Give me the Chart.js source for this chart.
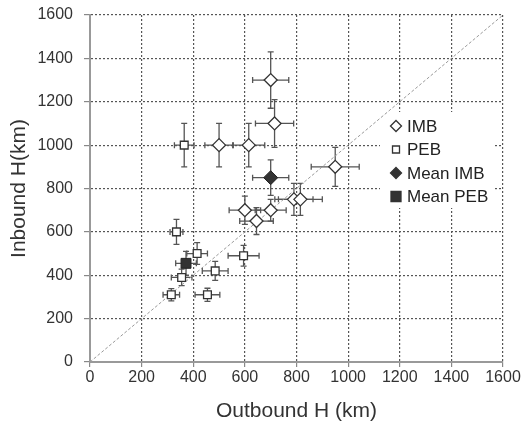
<!DOCTYPE html>
<html>
<head>
<meta charset="utf-8">
<script src="https://cdn.jsdelivr.net/npm/chart.js@4/dist/chart.umd.min.js"></script>
<style>
  body { margin: 0; background: #fff; }
  canvas { display: block; }
</style>
</head>
<body>
<canvas id="chart1" width="521" height="427"></canvas>
<script>
// IMB events
const imbX = [700, 715, 500, 615, 950, 790, 815, 600, 700, 645];
const imbY = [1300, 1100, 1000, 1000, 900, 750, 750, 700, 700, 650];
const imbXErr = [70, 74, 55, 62, 93, 74, 85, 61, 60, 65];
const imbYErr = [130, 110, 100, 100, 90, 74, 74, 65, 50, 62];

// PEB events
const pebX = [365, 335, 595, 415, 485, 355, 315, 455];
const pebY = [1000, 600, 490, 500, 420, 390, 310, 310];
const pebXErr = [38, 25, 60, 40, 50, 40, 32, 48];
const pebYErr = [100, 58, 48, 50, 44, 38, 28, 30];

// means
const meanImbX = [700];
const meanImbY = [850];
const meanImbXErr = [70];
const meanImbYErr = [82];
const meanPebX = [372];
const meanPebY = [455];
const meanPebXErr = [40];
const meanPebYErr = [55];

// 1:1 line
const diagX = [0, 1600];
const diagY = [0, 1600];

const axisTicks = [0, 200, 400, 600, 800, 1000, 1200, 1400, 1600];
const legendLabels = ['IMB', 'PEB', 'Mean IMB', 'Mean PEB'];

function toPoints(xs, ys) {
  let pts = [];
  for (let i = 0; i < xs.length; i++) {
    pts.push({x: xs[i], y: ys[i]});
  }
  return pts;
}

const errBars = [
  {x: imbX, y: imbY, ex: imbXErr, ey: imbYErr},
  {x: pebX, y: pebY, ex: pebXErr, ey: pebYErr},
  {x: meanImbX, y: meanImbY, ex: meanImbXErr, ey: meanImbYErr},
  {x: meanPebX, y: meanPebY, ex: meanPebXErr, ey: meanPebYErr}
];

const errorBarPlugin = {
  id: 'errorBars',
  beforeDatasetsDraw(chart) {
    const ctx = chart.ctx;
    const xs = chart.scales.x;
    const ys = chart.scales.y;
    const area = chart.chartArea;
    const cap = 3;
    ctx.save();
    // white box behind the legend
    ctx.fillStyle = '#fff';
    ctx.fillRect(area.right - 123, area.top + 97, 115, 96);
    ctx.strokeStyle = '#555';
    ctx.lineWidth = 1.3;
    errBars.forEach(function(s) {
      for (let i = 0; i < s.x.length; i++) {
        const px = xs.getPixelForValue(s.x[i]);
        const py = ys.getPixelForValue(s.y[i]);
        const x0 = xs.getPixelForValue(s.x[i] - s.ex[i]);
        const x1 = xs.getPixelForValue(s.x[i] + s.ex[i]);
        const y0 = ys.getPixelForValue(s.y[i] - s.ey[i]);
        const y1 = ys.getPixelForValue(s.y[i] + s.ey[i]);
        ctx.beginPath();
        ctx.moveTo(x0, py); ctx.lineTo(x1, py);
        ctx.moveTo(x0, py - cap); ctx.lineTo(x0, py + cap);
        ctx.moveTo(x1, py - cap); ctx.lineTo(x1, py + cap);
        ctx.moveTo(px, y0); ctx.lineTo(px, y1);
        ctx.moveTo(px - cap, y0); ctx.lineTo(px + cap, y0);
        ctx.moveTo(px - cap, y1); ctx.lineTo(px + cap, y1);
        ctx.stroke();
      }
    });
    ctx.restore();
  }
};

const legendPlugin = {
  id: 'innerLegend',
  afterDraw(chart) {
    const ctx = chart.ctx;
    const area = chart.chartArea;
    const mx = area.right - 107;
    const tx = area.right - 96;
    let y = area.top + 111;
    ctx.save();
    ctx.font = '17px "Liberation Sans", Arial, sans-serif';
    ctx.textBaseline = 'middle';
    ctx.textAlign = 'left';
    legendLabels.forEach(function(lbl, i) {
      ctx.lineWidth = 1.3;
      ctx.strokeStyle = '#333';
      ctx.fillStyle = (i < 2) ? '#fff' : '#333';
      ctx.beginPath();
      if (i === 0 || i === 2) {
        const r = 5.5;
        ctx.moveTo(mx, y - r); ctx.lineTo(mx + r, y);
        ctx.lineTo(mx, y + r); ctx.lineTo(mx - r, y);
        ctx.closePath();
      } else if (i === 1) {
        ctx.rect(mx - 3.5, y - 3.5, 7, 7);
      } else {
        ctx.rect(mx - 5, y - 5, 10, 10);
      }
      ctx.fill();
      ctx.stroke();
      ctx.fillStyle = '#222';
      ctx.fillText(lbl, tx, y + 1);
      y += 23.5;
    });
    ctx.restore();
  }
};

const ctx = document.getElementById('chart1').getContext('2d');

const chart1 = new Chart(ctx, {
  type: 'scatter',
  data: {
    datasets: [
      {
        label: 'Mean PEB',
        data: toPoints(meanPebX, meanPebY),
        pointStyle: 'rect',
        radius: 7,
        backgroundColor: '#333',
        borderColor: '#222',
        borderWidth: 1
      },
      {
        label: 'Mean IMB',
        data: toPoints(meanImbX, meanImbY),
        pointStyle: 'rectRot',
        radius: 7,
        backgroundColor: '#333',
        borderColor: '#222',
        borderWidth: 1
      },
      {
        label: 'PEB',
        data: toPoints(pebX, pebY),
        pointStyle: 'rect',
        radius: 5.5,
        backgroundColor: '#fff',
        borderColor: '#333',
        borderWidth: 1.3
      },
      {
        label: 'IMB',
        data: toPoints(imbX, imbY),
        pointStyle: 'rectRot',
        radius: 6.5,
        backgroundColor: '#fff',
        borderColor: '#333',
        borderWidth: 1.3
      },
      {
        type: 'line',
        label: '1:1',
        data: toPoints(diagX, diagY),
        borderColor: '#999',
        borderWidth: 1,
        borderDash: [3, 2],
        pointRadius: 0,
        fill: false
      }
    ]
  },
  options: {
    responsive: false,
    animation: false,
    events: [],
    layout: {
      padding: {top: 15, right: 18, left: 0, bottom: 0}
    },
    plugins: {
      legend: {display: false},
      tooltip: {enabled: false}
    },
    scales: {
      x: {
        type: 'linear',
        min: 0,
        max: 1600,
        afterFit(scale) {
          scale.height = 65;
          scale.paddingLeft = 0;
          scale.paddingRight = 0;
        },
        afterBuildTicks(scale) { scale.ticks = axisTicks.map(v => ({value: v})); },
        grid: {
          color: '#555',
          lineWidth: 1.2,
          tickLength: 5,
          tickColor: '#888'
        },
        border: {display: true, color: '#999', width: 2, dash: [2, 2]},
        ticks: {
          color: '#333',
          padding: 1,
          maxRotation: 0,
          callback: v => String(v),
          font: {family: '"Liberation Sans", Arial, sans-serif', size: 16}
        },
        title: {
          display: true,
          text: 'Outbound H (km)',
          color: '#333',
          padding: {top: 0, bottom: 3},
          font: {family: '"Liberation Sans", Arial, sans-serif', size: 21}
        }
      },
      y: {
        type: 'linear',
        min: 0,
        max: 1600,
        afterFit(scale) {
          scale.width = 90;
          scale.paddingTop = 0;
          scale.paddingBottom = 0;
        },
        afterBuildTicks(scale) { scale.ticks = axisTicks.map(v => ({value: v})); },
        grid: {
          color: '#555',
          lineWidth: 1.2,
          tickLength: 6,
          tickColor: '#888'
        },
        border: {display: true, color: '#999', width: 2, dash: [2, 2]},
        ticks: {
          color: '#333',
          padding: 11,
          callback: v => String(v),
          font: {family: '"Liberation Sans", Arial, sans-serif', size: 16}
        },
        title: {
          display: true,
          text: 'Inbound H(km)',
          color: '#333',
          padding: {top: 7, bottom: 0},
          font: {family: '"Liberation Sans", Arial, sans-serif', size: 21}
        }
      }
    }
  },
  plugins: [errorBarPlugin, legendPlugin]
});
</script>
</body>
</html>
